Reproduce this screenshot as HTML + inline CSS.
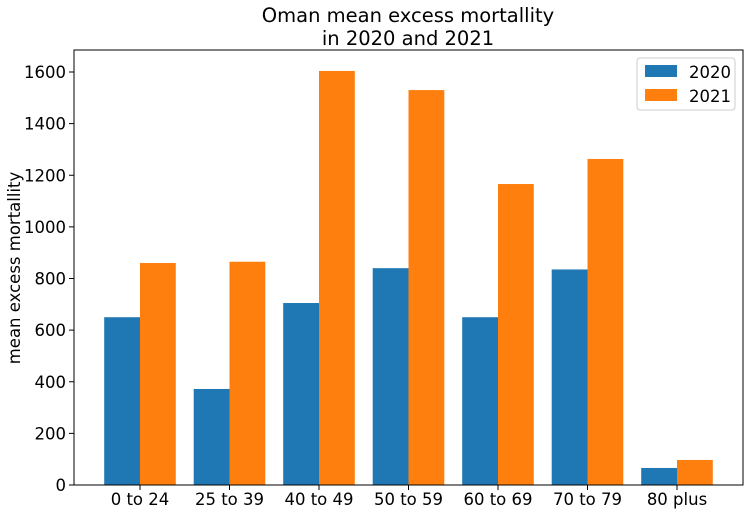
<!DOCTYPE html>
<html><head><meta charset="utf-8"><style>
body{margin:0;background:#fff;font-family:"DejaVu Sans","Liberation Sans",sans-serif;}
svg text{font-family:"DejaVu Sans","Liberation Sans",sans-serif;fill:#000;}
</style></head><body>
<svg id="chart" width="750" height="514">
<text x="408" y="22" font-size="19.5" text-anchor="middle">Oman mean excess mortallity</text>
<text x="408" y="45" font-size="19.5" text-anchor="middle">in 2020 and 2021</text>
<text transform="translate(20,268) rotate(-90)" font-size="16.5" text-anchor="middle">mean excess mortallity</text>
<g id="bars"></g>
<g id="axes"></g>
<g>
<rect x="637" y="58" width="98" height="52" rx="3" fill="#fff" stroke="#ccc"/>
<rect x="645" y="65" width="32" height="12" fill="#1f77b4"/>
<text x="689" y="78" font-size="16.5">2020</text>
<rect x="645" y="89" width="32" height="12" fill="#ff7f0e"/>
<text x="689" y="102" font-size="16.5">2021</text>
</g>
</svg>
<script>
const categories=["0 to 24","25 to 39","40 to 49","50 to 59","60 to 69","70 to 79","80 plus"];
const values2020=[650,372,705,840,650,835,66];
const values2021=[860,865,1604,1530,1166,1263,97];
const yTicks=[0,200,400,600,800,1000,1200,1400,1600];
const L=74,R=743,T=50,B=485;
const y=v=>B-v*(413/1600);
const xc=i=>140+i*89.5;
const bw=35.8;
const ns="http://www.w3.org/2000/svg";
const bars=document.getElementById('bars'),axes=document.getElementById('axes');
function mk(tag,a,p){const e=document.createElementNS(ns,tag);for(const k in a)e.setAttribute(k,a[k]);p.appendChild(e);return e;}
categories.forEach((c,i)=>{
 const a=mk('rect',{x:xc(i)-bw,y:y(values2020[i]),width:bw,height:B-y(values2020[i]),fill:'#1f77b4'},bars);
 
 
 const b=mk('rect',{x:xc(i),y:y(values2021[i]),width:bw,height:B-y(values2021[i]),fill:'#ff7f0e'},bars);
 
 
 mk('line',{x1:xc(i),x2:xc(i),y1:B,y2:B+5,stroke:'#000'},axes);
 const t=mk('text',{x:xc(i),y:B+20,'font-size':16.5,'text-anchor':'middle'},axes);
 t.textContent=c;
 
 
});
yTicks.forEach(v=>{
 mk('line',{x1:L-5,x2:L,y1:y(v),y2:y(v),stroke:'#000'},axes);
 const t=mk('text',{x:L-8,y:y(v)+6,'font-size':16.5,'text-anchor':'end'},axes);
 t.textContent=v;
 
 
});
const fr=mk('rect',{x:L,y:T,width:R-L,height:B-T,fill:'none',stroke:'#000','stroke-width':1},axes);


</script>
</body></html>
